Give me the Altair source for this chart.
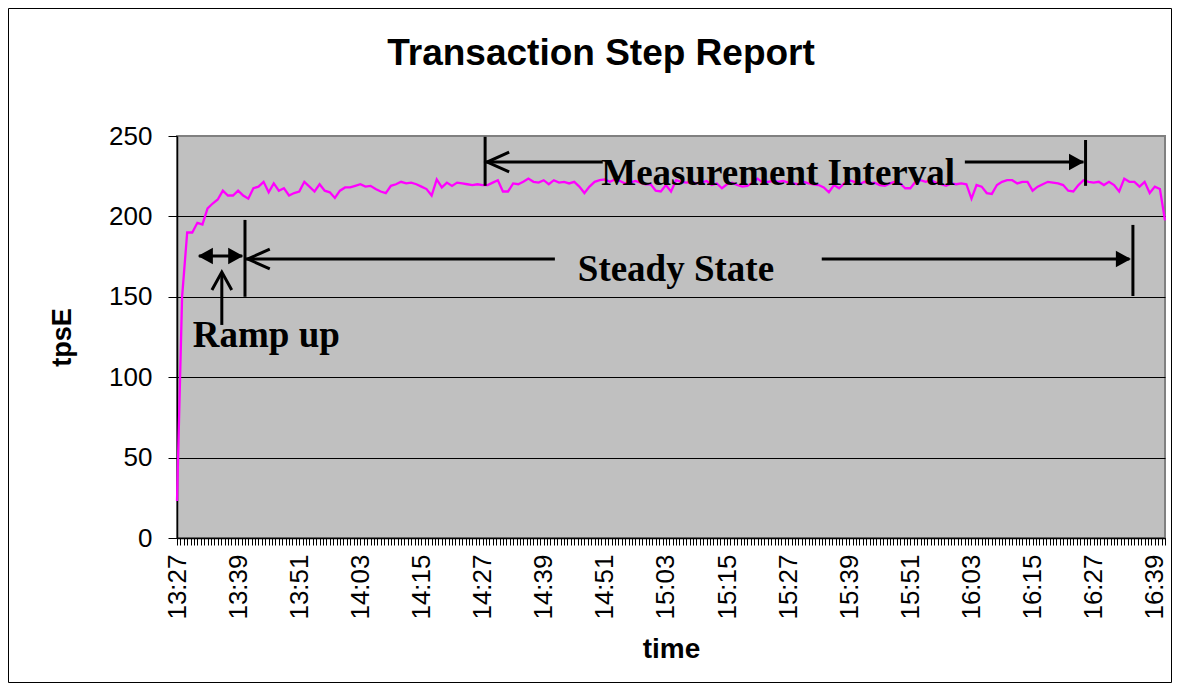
import json
import altair as alt
import pandas as pd

TITLE = "Transaction Step Report"
X_TITLE = "time"
Y_TITLE = "tpsE"

# tpsE, one sample per minute starting 13:27
TPSE = [
    23, 150, 190, 190, 196, 195, 205, 208, 210.5, 216, 213, 213, 216, 213, 211,
    217.5, 218.5, 221.5, 215, 220.5, 216, 217.5, 213, 214.5, 215.5, 221.5, 218.5,
    215.5, 220, 216, 215, 211.5, 216, 218, 218, 219, 220,
    218.5, 219, 217, 215.5, 214.5, 219, 220, 221.5, 220.5, 221,
    220, 218.5, 217, 213, 223, 218, 221, 219, 221, 220.5,
    220, 219.5, 220, 219.5, 219.5, 221,
    222.5, 215.5, 215.5, 220.5, 220, 221.5, 223.5, 221.5, 221, 222.5, 220, 222.5,
    221, 221.5, 220.5, 221.5, 218.5, 214.5, 218.5, 221.5, 222.5,
    223, 221.5, 223, 222, 220.5, 221, 222, 221, 220, 220,
    216, 215.5, 219.5, 215.5, 222.5, 221.5, 221, 221.5, 220.5, 221,
    222, 219.5, 220.5, 217.5, 220, 221, 219.5, 218.5, 219, 221,
    223.5, 221, 221.5, 222, 221.5, 222, 221, 220.5,
    220, 221.5, 220.5, 220, 219.5, 218, 215, 219.5, 217.5, 220.5,
    222.5, 221.5, 220, 221.5, 220.5, 221, 219.5, 219, 220.5, 221.5,
    220.5, 217.5, 217.5, 221.5, 222.5, 221.5, 222.5, 221, 220, 219,
    220.5, 220, 220.5, 220, 211, 219.5, 218.5, 214.5, 214, 219.5,
    221.5, 222.5, 222.5, 220.5, 221.5, 221.5, 216, 218.5, 220, 221.5,
    221, 220.5, 219.5, 216, 215.5, 219.5, 222.5, 221.5, 221, 221.5,
    219.5, 221.5, 219.5, 215.5, 223.5, 221.5, 221.5, 218.5, 221.5, 214.5,
    218.5, 217, 197.5,
]
MINUTES = list(range(len(TPSE)))

TICK_LABELS = ["13:27", "13:39", "13:51", "14:03", "14:15", "14:27", "14:39",
               "14:51", "15:03", "15:15", "15:27", "15:39", "15:51", "16:03",
               "16:15", "16:27", "16:39"]
LABEL_EVERY_MIN = 12
MINOR_TICKS_PER_MIN = 1.5
Y_TICKS = [0, 50, 100, 150, 200, 250]

# annotation segments (minute, tpsE units)
SEG_X1 = [60.5, 178.4, 60.6, 154.7, 13.35, 187.7, 13.4, 126.6, 4.3, 8.8]
SEG_X2 = [60.5, 178.4, 83.6, 178.0, 13.35, 187.7, 74.2, 187.0, 12.8, 8.8]
SEG_Y1 = [219, 219, 233.8, 233.8, 150, 150.5, 173.5, 173.5, 175.4, 132.5]
SEG_Y2 = [249.5, 247.5, 233.8, 233.8, 197.8, 194.7, 173.5, 173.5, 175.4, 164.5]

# arrow heads
OPEN_LEFT_X = [60.9, 13.9]
OPEN_LEFT_Y = [233.8, 173.5]
FILL_RIGHT_X = [178.1, 187.3, 13.0]
FILL_RIGHT_Y = [233.8, 173.5, 175.4]
FILL_LEFT_X = [4.1]
FILL_LEFT_Y = [175.4]
OPEN_UP_X = [8.8]
OPEN_UP_Y = [165.4]

NOTES = ["Measurement Interval", "Steady State", "Ramp up"]
NOTE_X = [83.3, 78.7, 3.1]
NOTE_Y = [219.5, 159.8, 118.8]

xmax = len(TPSE) - 1
minor_vals = [round(i / MINOR_TICKS_PER_MIN, 4)
              for i in range(int(xmax * MINOR_TICKS_PER_MIN) + 1)]
label_expr = (
    f"round(datum.value*{MINOR_TICKS_PER_MIN*2:g}) % {int(LABEL_EVERY_MIN*MINOR_TICKS_PER_MIN*2)} == 0 ? "
    + json.dumps(TICK_LABELS)
    + f"[round(datum.value/{LABEL_EVERY_MIN})] : ''"
)

xscale = alt.Scale(domain=[0, xmax], nice=False, zero=False)
yscale = alt.Scale(domain=[0, 250], nice=False)

X_AXIS = alt.Axis(values=minor_vals, labelExpr=label_expr, labelAngle=270,
                  labelOverlap=False, labelFlush=False, labelBound=False,
                  labelFontSize=26, labelFont="Liberation Sans",
                  labelPadding=9, tickSize=7, titlePadding=16,
                  titleFontSize=28, titleFont="Liberation Sans",
                  titleFontWeight="bold", grid=False)
Y_AXIS = alt.Axis(values=Y_TICKS, labelFontSize=26, labelFont="Liberation Sans",
                  labelPadding=16, tickSize=9, titlePadding=32,
                  titleFontSize=27, titleFont="Liberation Sans",
                  titleFontWeight="bold", grid=True,
                  gridColor={"condition": {"test": "datum.value === 250", "value": "#808080"},
                             "value": "#000000"},
                  gridWidth=1.2)

X_ENC = alt.X("minute:Q", scale=xscale, title=X_TITLE, axis=X_AXIS)
Y_ENC = alt.Y("tpsE:Q", scale=yscale, title=Y_TITLE, axis=Y_AXIS)

df = pd.DataFrame({"minute": MINUTES, "tpsE": TPSE})

line = alt.Chart(df).mark_line(color="#FF00FF", strokeWidth=2.3).encode(x=X_ENC, y=Y_ENC)

seg_df = pd.DataFrame({"minute": SEG_X1, "m2": SEG_X2, "tpsE": SEG_Y1, "v2": SEG_Y2})
segs = alt.Chart(seg_df).mark_rule(color="black", strokeWidth=3).encode(
    x=X_ENC, x2="m2:Q", y=Y_ENC, y2="v2:Q",
)

def heads(xs, ys, path, size, filled):
    d = pd.DataFrame({"minute": xs, "tpsE": ys})
    if filled:
        mk = alt.Chart(d).mark_point(shape=path, size=size, filled=True,
                                     color="black", opacity=1)
    else:
        mk = alt.Chart(d).mark_point(shape=path, size=size, filled=False,
                                     color="black", opacity=1, strokeWidth=3)
    return mk.encode(x=X_ENC, y=Y_ENC)

h1 = heads(OPEN_LEFT_X, OPEN_LEFT_Y, "M1,-0.45L0,0L1,0.45", 1936, False)
h2 = heads(FILL_RIGHT_X, FILL_RIGHT_Y, "M0,0L-1,-0.55L-1,0.55Z", 900, True)
h3 = heads(FILL_LEFT_X, FILL_LEFT_Y, "M0,0L1,-0.55L1,0.55Z", 900, True)
h4 = heads(OPEN_UP_X, OPEN_UP_Y, "M-0.55,1L0,0L0.55,1", 1296, False)

note_df = pd.DataFrame({"minute": NOTE_X, "tpsE": NOTE_Y, "note": NOTES})
notes = alt.Chart(note_df).mark_text(
    font="Liberation Serif", fontWeight="bold", fontSize=37, align="left",
    baseline="alphabetic", color="black",
).encode(x=X_ENC, y=Y_ENC, text="note:N")

# chart title and chart-area border (outside the plot area)
title_mark = alt.Chart(pd.DataFrame({"k": [0]})).mark_text(
    font="Liberation Sans", fontWeight="bold", fontSize=37, align="center",
    baseline="alphabetic", color="black",
).encode(x=alt.value(424), y=alt.value(-71), text=alt.value(TITLE))

frame = alt.Chart(pd.DataFrame({"k": [0]})).mark_rect(
    fillOpacity=0, stroke="black", strokeWidth=1
).encode(x=alt.value(-168.5), x2=alt.value(994.5), y=alt.value(-127.5), y2=alt.value(546.5))

chart = alt.layer(line, segs, h1, h2, h3, h4, notes, title_mark, frame).properties(
    width=988, height=402,
    background="white",
    autosize=alt.AutoSizeParams(type="none"),
    padding={"left": 169, "top": 128, "right": 7, "bottom": 145},
).configure_view(
    fill="#C0C0C0", stroke="#808080", strokeWidth=2
).configure_axis(
    domainColor="black", domainWidth=1.5, tickColor="black", labelColor="black",
    titleColor="black"
)

chart.save("out.html", embed_options={"renderer": "svg", "actions": False})
